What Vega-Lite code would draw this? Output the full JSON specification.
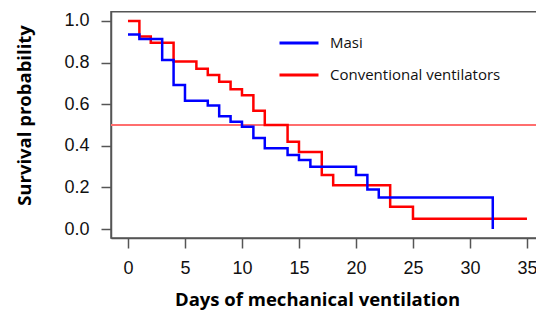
{
  "$schema": "https://vega.github.io/schema/vega-lite/v6.json",
  "width": 426,
  "height": 227,
  "autosize": {"type": "none"},
  "padding": {"left": 111, "top": 11, "right": 0, "bottom": 74},
  "background": "white",
  "config": {
    "view": {"stroke": null},
    "axis": {
      "grid": false,
      "domainColor": "#555555",
      "domainWidth": 1.5,
      "tickColor": "#555555",
      "tickWidth": 1.5,
      "tickSize": 10,
      "labelFont": "Liberation Sans",
      "labelFontSize": 18,
      "labelColor": "#111111",
      "titleFont": "Open Sans",
      "titleFontWeight": "bold",
      "titleFontSize": 18.5,
      "titleColor": "#000000"
    }
  },
  "datasets": {
    "km": [
      {"group": "Conventional ventilators", "day": 0, "surv": 1.0},
      {"group": "Conventional ventilators", "day": 1, "surv": 0.925},
      {"group": "Conventional ventilators", "day": 2, "surv": 0.895},
      {"group": "Conventional ventilators", "day": 4, "surv": 0.805},
      {"group": "Conventional ventilators", "day": 6, "surv": 0.77},
      {"group": "Conventional ventilators", "day": 7, "surv": 0.74},
      {"group": "Conventional ventilators", "day": 8, "surv": 0.708},
      {"group": "Conventional ventilators", "day": 9, "surv": 0.672},
      {"group": "Conventional ventilators", "day": 10, "surv": 0.643},
      {"group": "Conventional ventilators", "day": 11, "surv": 0.568},
      {"group": "Conventional ventilators", "day": 12, "surv": 0.5},
      {"group": "Conventional ventilators", "day": 14, "surv": 0.42},
      {"group": "Conventional ventilators", "day": 15, "surv": 0.37},
      {"group": "Conventional ventilators", "day": 17, "surv": 0.26},
      {"group": "Conventional ventilators", "day": 18, "surv": 0.21},
      {"group": "Conventional ventilators", "day": 23, "surv": 0.107},
      {"group": "Conventional ventilators", "day": 25, "surv": 0.05},
      {"group": "Conventional ventilators", "day": 35, "surv": 0.05},
      {"group": "Masi", "day": 0, "surv": 0.935},
      {"group": "Masi", "day": 1, "surv": 0.913},
      {"group": "Masi", "day": 3, "surv": 0.812},
      {"group": "Masi", "day": 4, "surv": 0.692},
      {"group": "Masi", "day": 5, "surv": 0.617},
      {"group": "Masi", "day": 7, "surv": 0.594},
      {"group": "Masi", "day": 8, "surv": 0.542},
      {"group": "Masi", "day": 9, "surv": 0.516},
      {"group": "Masi", "day": 10, "surv": 0.492},
      {"group": "Masi", "day": 11, "surv": 0.438},
      {"group": "Masi", "day": 12, "surv": 0.388},
      {"group": "Masi", "day": 14, "surv": 0.356},
      {"group": "Masi", "day": 15, "surv": 0.332},
      {"group": "Masi", "day": 16, "surv": 0.3},
      {"group": "Masi", "day": 20, "surv": 0.26},
      {"group": "Masi", "day": 21, "surv": 0.19},
      {"group": "Masi", "day": 22, "surv": 0.152},
      {"group": "Masi", "day": 32, "surv": 0.0}
    ],
    "ref": [{"p": 0.5}],
    "frame": [{"x0": -1.49, "x1": 36.5, "y0": -0.043, "y1": 1.044}]
  },
  "layer": [
    {
      "data": {"name": "frame"},
      "mark": {"type": "rect", "fill": null, "fillOpacity": 0, "stroke": "#555555", "strokeWidth": 1.5},
      "encoding": {
        "x": {"field": "x0", "type": "quantitative", "scale": {"domain": [-1.49, 35.88], "nice": false, "zero": false}},
        "x2": {"field": "x1"},
        "y": {"field": "y0", "type": "quantitative", "scale": {"domain": [-0.043, 1.048], "nice": false, "zero": false}},
        "y2": {"field": "y1"}
      }
    },
    {
      "data": {"name": "ref"},
      "mark": {"type": "rule", "color": "#FF6E6E", "strokeWidth": 2},
      "encoding": {
        "y": {"field": "p", "type": "quantitative"}
      }
    },
    {
      "data": {"name": "km"},
      "transform": [{"filter": "datum.group === 'Conventional ventilators'"}],
      "mark": {"type": "line", "interpolate": "step-after", "strokeWidth": 2.5, "clip": true},
      "encoding": {
        "x": {"field": "day", "type": "quantitative"},
        "y": {"field": "surv", "type": "quantitative"},
        "color": {"field": "group", "type": "nominal"}
      }
    },
    {
      "data": {"name": "km"},
      "transform": [{"filter": "datum.group === 'Masi'"}],
      "mark": {"type": "line", "interpolate": "step-after", "strokeWidth": 2.5, "clip": true},
      "encoding": {
        "x": {
          "field": "day", "type": "quantitative",
          "axis": {
            "values": [0, 5, 10, 15, 20, 25, 30, 35],
            "title": "Days of mechanical ventilation",
            "labelPadding": 11,
            "titleX": 206,
            "titleY": 67,
            "titleBaseline": "alphabetic",
            "titleAnchor": null,
            "titleAlign": "center"
          }
        },
        "y": {
          "field": "surv", "type": "quantitative",
          "axis": {
            "values": [0, 0.2, 0.4, 0.6, 0.8, 1.0],
            "format": ".1f",
            "title": "Survival probability",
            "labelPadding": 12,
            "titleX": -81,
            "titleY": 104,
            "titleAngle": -90,
            "titleBaseline": "alphabetic",
            "titleAlign": "center",
            "titleAnchor": null
          }
        },
        "color": {
          "field": "group", "type": "nominal",
          "scale": {"domain": ["Masi", "Conventional ventilators"], "range": ["#0000FF", "#FF0000"]},
          "legend": {
            "title": null,
            "orient": "none",
            "legendX": 167,
            "legendY": 11,
            "padding": 0,
            "symbolType": "stroke",
            "symbolSize": 1521,
            "symbolStrokeWidth": 3,
            "labelOffset": 10,
            "labelFont": "Open Sans",
            "labelFontSize": 15,
            "labelLimit": 300,
            "labelColor": "#111111",
            "rowPadding": 3
          }
        }
      }
    }
  ]
}
